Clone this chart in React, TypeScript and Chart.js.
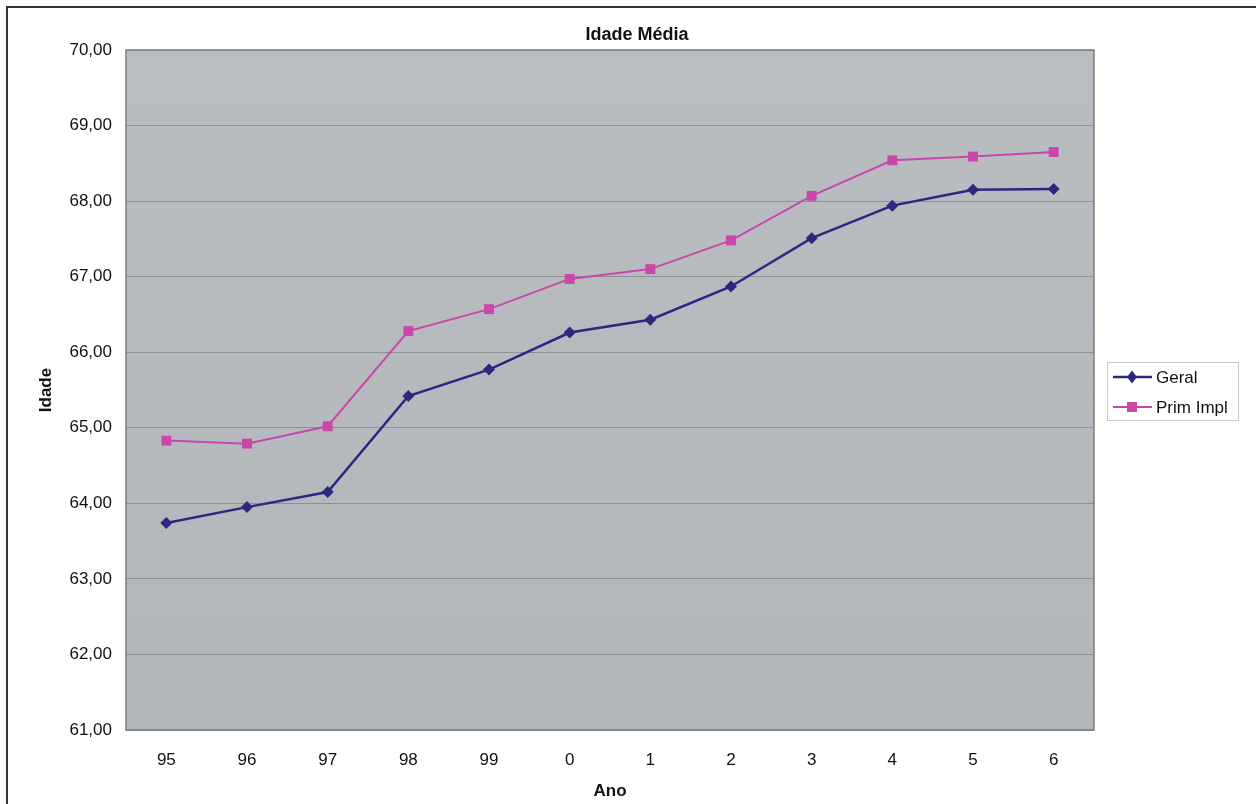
import React, { useEffect, useRef } from "react";
import { Chart, registerables } from "chart.js";

Chart.register(...registerables);

const chartTitle = "Idade Média";
const xAxisTitle = "Ano";
const yAxisTitle = "Idade";
const categories = ["95", "96", "97", "98", "99", "0", "1", "2", "3", "4", "5", "6"];
const geralLabel = "Geral";
const geral = [63.74, 63.95, 64.15, 65.42, 65.77, 66.26, 66.43, 66.87, 67.51, 67.94, 68.15, 68.16];
const primLabel = "Prim Impl";
const primImpl = [64.83, 64.79, 65.02, 66.28, 66.57, 66.97, 67.1, 67.48, 68.07, 68.54, 68.59, 68.65];
const yMin = 61;
const yMax = 70;
const yStep = 1;

const FONT = '"Liberation Sans", Arial, Helvetica, sans-serif';
const GERAL_COLOR = "#2a2880";
const PRIM_COLOR = "#c947a9";

const decorPlugin = {
  id: "decor",
  beforeDraw(chart: any) {
    const { ctx, chartArea: a } = chart;
    ctx.save();
    const g = ctx.createLinearGradient(0, a.top, 0, a.bottom);
    g.addColorStop(0, "#b9bdc1");
    g.addColorStop(1, "#b3b7ba");
    ctx.fillStyle = g;
    ctx.fillRect(a.left, a.top, a.right - a.left, a.bottom - a.top);
    ctx.restore();
  },
  beforeDatasetsDraw(chart: any) {
    const { ctx, chartArea: a } = chart;
    ctx.save();
    ctx.strokeStyle = "#7d7d7f";
    ctx.lineWidth = 1.5;
    ctx.strokeRect(a.left, a.top, a.right - a.left, a.bottom - a.top);
    ctx.restore();
  },
  afterDraw(chart: any) {
    const { ctx } = chart;
    ctx.save();
    // title
    ctx.fillStyle = "#111";
    ctx.font = `bold 18px ${FONT}`;
    ctx.textAlign = "center";
    ctx.textBaseline = "middle";
    ctx.fillText(chartTitle, 637, 35);

    // legend
    const bx = 1107, by = 362, bw = 131, bh = 58;
    ctx.fillStyle = "#ffffff";
    ctx.fillRect(bx, by, bw, bh);
    ctx.strokeStyle = "#c9c9c9";
    ctx.lineWidth = 1;
    ctx.strokeRect(bx + 0.5, by + 0.5, bw, bh);
    const items = chart.data.datasets.map((d: any) => d);
    const ys = [377, 407];
    items.forEach((d: any, i: number) => {
      const y = ys[i];
      ctx.strokeStyle = d.borderColor;
      ctx.lineWidth = d.borderWidth;
      ctx.beginPath();
      ctx.moveTo(1113, y);
      ctx.lineTo(1152, y);
      ctx.stroke();
      ctx.fillStyle = d.pointBackgroundColor;
      ctx.beginPath();
      if (d.pointStyle === "rectRot") {
        ctx.moveTo(1132, y - 6.5);
        ctx.lineTo(1137, y);
        ctx.lineTo(1132, y + 6.5);
        ctx.lineTo(1127, y);
        ctx.closePath();
      } else {
        ctx.rect(1127, y - 5, 10, 10);
      }
      ctx.fill();
      ctx.fillStyle = "#111";
      ctx.font = `17px ${FONT}`;
      ctx.textAlign = "left";
      ctx.textBaseline = "middle";
      ctx.fillText(d.label, 1156, y + 1);
    });
    ctx.restore();
  },
};

export default function App() {
  const ref = useRef<HTMLCanvasElement | null>(null);
  useEffect(() => {
    if (!ref.current) return;
    const chart = new Chart(ref.current, {
      type: "line",
      data: {
        labels: categories,
        datasets: [
          {
            label: geralLabel,
            data: geral,
            borderColor: GERAL_COLOR,
            backgroundColor: GERAL_COLOR,
            pointBackgroundColor: GERAL_COLOR,
            pointBorderColor: GERAL_COLOR,
            borderWidth: 2.5,
            pointStyle: "rectRot",
            pointRadius: 6,
            pointBorderWidth: 0,
            tension: 0,
          },
          {
            label: primLabel,
            data: primImpl,
            borderColor: PRIM_COLOR,
            backgroundColor: PRIM_COLOR,
            pointBackgroundColor: PRIM_COLOR,
            pointBorderColor: PRIM_COLOR,
            borderWidth: 2,
            pointStyle: "rect",
            pointRadius: 7,
            pointBorderWidth: 0,
            tension: 0,
          },
        ],
      },
      options: {
        animation: false,
        responsive: true,
        maintainAspectRatio: false,
        layout: { padding: { left: 10, top: 50, right: 162, bottom: 0 } },
        plugins: {
          legend: { display: false },
          title: { display: false },
          tooltip: { enabled: false },
        },
        scales: {
          x: {
            offset: true,
            grid: { display: false, drawTicks: false },
            border: { display: false },
            ticks: {
              color: "#111",
              font: { family: FONT, size: 17 },
              padding: 20,
              maxRotation: 0,
            },
            title: {
              display: true,
              text: xAxisTitle,
              color: "#111",
              font: { family: FONT, size: 17, weight: "bold" },
              padding: { top: 0, bottom: 2 },
            },
            afterFit(scale: any) {
              scale.height = 74;
            },
          },
          y: {
            min: yMin,
            max: yMax,
            grid: { color: "#8d9094", lineWidth: 1, drawTicks: false },
            border: { display: false },
            ticks: {
              stepSize: yStep,
              color: "#111",
              font: { family: FONT, size: 17 },
              padding: 14,
              callback: (v: any) => Number(v).toFixed(2).replace(".", ","),
            },
            title: {
              display: true,
              text: yAxisTitle,
              color: "#111",
              font: { family: FONT, size: 17, weight: "bold" },
              padding: { top: 26, bottom: 0 },
            },
            afterFit(scale: any) {
              scale.width = 116;
            },
          },
        },
      },
      plugins: [decorPlugin],
    });
    return () => chart.destroy();
  }, []);

  return (
    <div style={{ position: "fixed", inset: 0, overflow: "hidden", background: "#fff" }}>
      <div
        style={{
          position: "absolute",
          left: 6,
          top: 6,
          width: 1300,
          height: 850,
          border: "2px solid #333",
        }}
      />
      <div style={{ position: "absolute", left: 0, top: 0, width: 1256, height: 804 }}>
        <canvas ref={ref} />
      </div>
    </div>
  );
}
